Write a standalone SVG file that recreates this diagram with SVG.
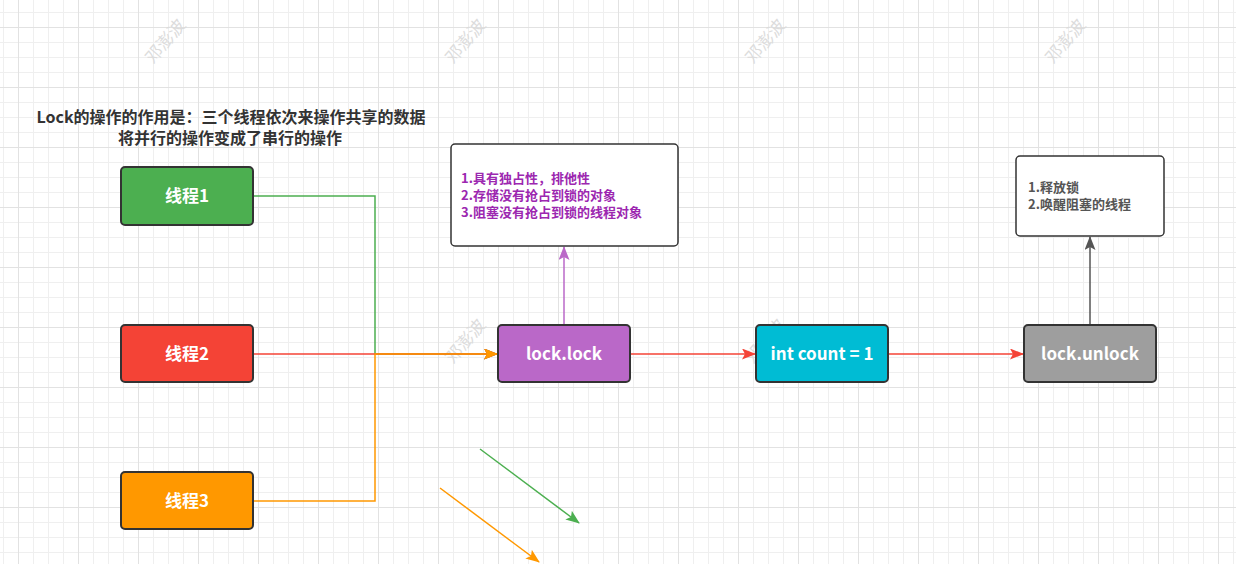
<svg xmlns="http://www.w3.org/2000/svg" width="1236" height="564" viewBox="0 0 1236 564">
<defs>
<pattern id="grid" x="18" y="27" width="60" height="60" patternUnits="userSpaceOnUse">
<rect x="0" y="0" width="60" height="60" fill="#ffffff"/>
<rect x="15" y="0" width="1" height="60" fill="#efefef"/>
<rect x="30" y="0" width="1" height="60" fill="#efefef"/>
<rect x="45" y="0" width="1" height="60" fill="#efefef"/>
<rect x="0" y="15" width="60" height="1" fill="#efefef"/>
<rect x="0" y="30" width="60" height="1" fill="#efefef"/>
<rect x="0" y="45" width="60" height="1" fill="#efefef"/>
<rect x="0" y="0" width="1" height="60" fill="#e2e2e2"/>
<rect x="0" y="0" width="60" height="1" fill="#e2e2e2"/>
</pattern>
<marker id="aGreen" viewBox="0 0 14 11" refX="13" refY="5.5" markerWidth="14" markerHeight="11" markerUnits="userSpaceOnUse" orient="auto"><path d="M0,0 L14,5.5 L0,11 L3,5.5 z" fill="#4caf50"/></marker>
<marker id="aRed" viewBox="0 0 14 11" refX="13" refY="5.5" markerWidth="14" markerHeight="11" markerUnits="userSpaceOnUse" orient="auto"><path d="M0,0 L14,5.5 L0,11 L3,5.5 z" fill="#f44336"/></marker>
<marker id="aOrange" viewBox="0 0 14 11" refX="13" refY="5.5" markerWidth="14" markerHeight="11" markerUnits="userSpaceOnUse" orient="auto"><path d="M0,0 L14,5.5 L0,11 L3,5.5 z" fill="#ff9800"/></marker>
<marker id="aPurple" viewBox="0 0 14 11" refX="13" refY="5.5" markerWidth="14" markerHeight="11" markerUnits="userSpaceOnUse" orient="auto"><path d="M0,0 L14,5.5 L0,11 L3,5.5 z" fill="#ba68c8"/></marker>
<marker id="aGray" viewBox="0 0 14 11" refX="13" refY="5.5" markerWidth="14" markerHeight="11" markerUnits="userSpaceOnUse" orient="auto"><path d="M0,0 L14,5.5 L0,11 L3,5.5 z" fill="#555555"/></marker>
</defs>
<style>
text{font-family:"Noto Sans CJK SC","Noto Sans",sans-serif;font-weight:bold}
.node{stroke:#333333;stroke-width:2}
.nt{fill:#ffffff;font-size:17px;text-anchor:middle}
.note{fill:#ffffff;stroke:#333333;stroke-width:1.5}
.wm{fill:#dcdcdc;font-size:17px;font-weight:normal;text-anchor:middle}
.title{fill:#333333;font-size:16px;text-anchor:middle}
.c{fill:none;stroke-width:1.5}
</style>
<rect x="0" y="0" width="1236" height="564" fill="url(#grid)"/>
<g id="watermarks">
<text class="wm" transform="translate(170,45) rotate(-50)">邓澎波</text>
<text class="wm" transform="translate(470,45) rotate(-50)">邓澎波</text>
<text class="wm" transform="translate(770,45) rotate(-50)">邓澎波</text>
<text class="wm" transform="translate(1070,45) rotate(-50)">邓澎波</text>
<text class="wm" transform="translate(470,345) rotate(-50)">邓澎波</text>
<text class="wm" transform="translate(770,345) rotate(-50)">邓澎波</text>
</g>
<g id="title">
<text class="title" x="231" y="123">Lock的操作的作用是：三个线程依次来操作共享的数据</text>
<text class="title" x="230" y="144">将并行的操作变成了串行的操作</text>
</g>
<g id="connectors">
<path class="c" d="M253,196 H375 V354 H497" stroke="#4caf50" marker-end="url(#aGreen)"/>
<path class="c" d="M253,354 H497" stroke="#f44336" marker-end="url(#aRed)"/>
<path class="c" d="M253,501 H375 V354 H497" stroke="#ff9800" marker-end="url(#aOrange)"/>
<path class="c" d="M564,325 V247" stroke="#ba68c8" marker-end="url(#aPurple)"/>
<path class="c" d="M630,354 H755" stroke="#f44336" marker-end="url(#aRed)"/>
<path class="c" d="M888,354 H1023" stroke="#f44336" marker-end="url(#aRed)"/>
<path class="c" d="M1090,325 V237" stroke="#555555" marker-end="url(#aGray)"/>
<path class="c" d="M480,449 L579,523" stroke="#4caf50" marker-end="url(#aGreen)"/>
<path class="c" d="M440,488 L539,562" stroke="#ff9800" marker-end="url(#aOrange)"/>
</g>
<g id="thread1"><rect class="node" x="121" y="167" width="132" height="58" rx="4" fill="#4caf50"/><text class="nt" x="187" y="202">线程1</text></g>
<g id="thread2"><rect class="node" x="121" y="325" width="132" height="57" rx="4" fill="#f44336"/><text class="nt" x="187" y="360">线程2</text></g>
<g id="thread3"><rect class="node" x="121" y="472" width="132" height="57" rx="4" fill="#ff9800"/><text class="nt" x="187" y="507">线程3</text></g>
<g id="lockLock"><rect class="node" x="498" y="325" width="132" height="57" rx="4" fill="#ba68c8"/><text class="nt" x="564" y="360">lock.lock</text></g>
<g id="count"><rect class="node" x="756" y="325" width="132" height="57" rx="4" fill="#00bcd4"/><text class="nt" x="822" y="360">int count = 1</text></g>
<g id="lockUnlock"><rect class="node" x="1024" y="325" width="132" height="57" rx="4" fill="#9e9e9e"/><text class="nt" x="1090" y="360">lock.unlock</text></g>
<g id="note1"><rect class="note" x="451" y="144" width="227" height="102" rx="4"/>
<text x="461" y="183" font-size="13" fill="#9c27b0">1.具有独占性，排他性</text>
<text x="461" y="200" font-size="13" fill="#9c27b0">2.存储没有抢占到锁的对象</text>
<text x="461" y="217" font-size="13" fill="#9c27b0">3.阻塞没有抢占到锁的线程对象</text>
</g>
<g id="note2"><rect class="note" x="1016" y="156" width="148" height="80" rx="4"/>
<text x="1028" y="191.5" font-size="13" fill="#555555">1.释放锁</text>
<text x="1028" y="208.5" font-size="13" fill="#555555">2.唤醒阻塞的线程</text>
</g>
</svg>
